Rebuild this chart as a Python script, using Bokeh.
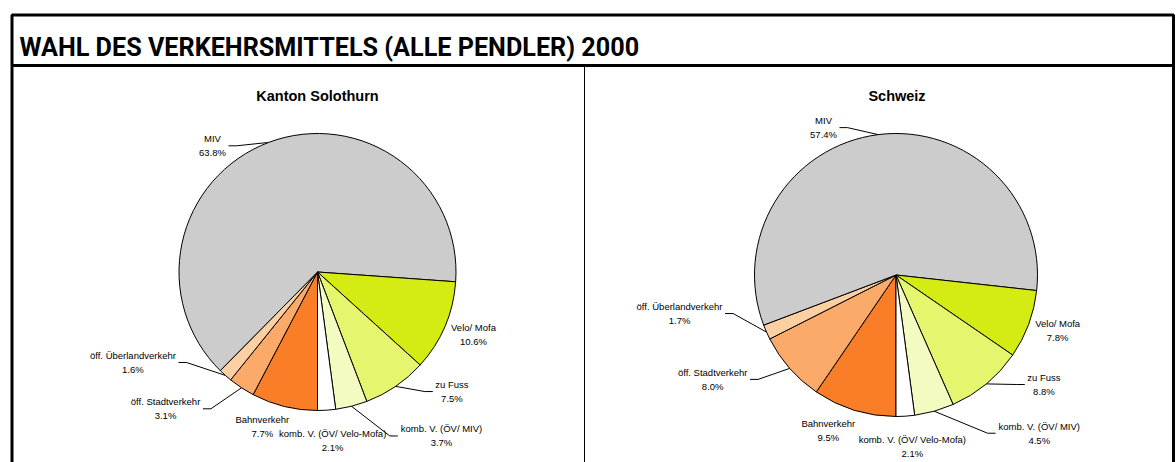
import math
from bokeh.plotting import figure
from bokeh.models import Range1d, ColumnDataSource
from bokeh.core.properties import value
from bokeh.embed import file_html
from bokeh.resources import INLINE

# ---------------- data ----------------
TITLE = "WAHL DES VERKEHRSMITTELS (ALLE PENDLER) 2000"
pie_titles = ["Kanton Solothurn", "Schweiz"]
# clockwise, starting at 6 o'clock
categories = ["Bahnverkehr", "öff. Stadtverkehr", "öff. Überlandverkehr", "MIV",
              "Velo/ Mofa", "zu Fuss", "komb. V. (ÖV/ MIV)", "komb. V. (ÖV/ Velo-Mofa)"]
solothurn = [7.7, 3.1, 1.6, 63.8, 10.6, 7.5, 3.7, 2.1]
schweiz = [9.5, 8.0, 1.7, 57.4, 7.8, 8.8, 4.5, 2.1]

# ---------------- style / layout ----------------
colors = ["#FA7D28", "#FBAA6A", "#FDD0A2", "#CCCCCC", "#D4EB14", "#E6F56E", "#F4FBC0", "#FFFFFF"]
has_leader = [False, True, True, True, False, True, True, False]
pie_layout = [
    dict(cx=317, cy=271.5, r=138.5, tx=317, ty=95.5,
         offs=[(-22, 20.5), (-76, 21), (-92.4, -12.9), (-56.1, 3.4),
               (28.6, 8.1), (56.3, 5.2), (90, 29.7), (6, 30.8)]),
    dict(cx=895.5, cy=274.5, r=141.5, tx=896.5, ty=95.5,
         offs=[(-26, 20.6), (-77, 11), (-87, -18.6), (-54.7, -7),
               (29, 6.2), (57.6, 0.6), (105, 22), (7, 30.6)]),
]
LABEL_FONT = "Liberation Sans"
LABEL_SIZE = 9.5

W, H = 1176, 462
OX, OY = 0, 0


def X(px):
    return px - OX


def Y(py):
    return H - (py - OY)


# Arial / Liberation Sans advance widths (per 1000 em)
AW = {'a': 556, 'b': 556, 'd': 556, 'e': 556, 'f': 278, 'h': 556, 'k': 500, 'l': 222,
      'm': 833, 'n': 556, 'o': 556, 'r': 333, 's': 500, 't': 278, 'u': 556, 'v': 500,
      'z': 500, 'ö': 556, 'B': 667, 'F': 611, 'M': 833, 'Ö': 778, 'S': 667, 'Ü': 722,
      'V': 667, 'I': 278, '(': 333, ')': 333, '/': 278, '-': 333, '.': 278, ' ': 278,
      '%': 889}


def text_w(s, size):
    return sum(AW.get(c, 556) for c in s) / 1000.0 * size


p = figure(width=W, height=H, x_range=Range1d(0, W), y_range=Range1d(0, H),
           output_backend="svg", toolbar_location=None, min_border=0,
           x_axis_type=None, y_axis_type=None)
p.grid.visible = False
p.outline_line_color = None
p.background_fill_color = "white"
p.border_fill_color = "white"

# frame
p.multi_line(xs=[[X(11.5), X(11.5), X(1173), X(1173)],
                 [X(11.5), X(1173)],
                 [X(584), X(584)]],
             ys=[[Y(462), Y(14.5), Y(14.5), Y(462)],
                 [Y(65), Y(65)],
                 [Y(65), Y(462)]],
             line_color="black", line_width=[3, 3, 1])

p.text(x=[X(19)], y=[Y(47)], text=[TITLE], text_align="left", text_baseline="middle",
       text_font=value("Roboto"), text_font_style="bold",
       text_font_size="25.2px", text_color="black")

for vals, ptitle, lay in zip([solothurn, schweiz], pie_titles, pie_layout):
    total = float(sum(vals))
    cum = 0.0
    starts, ends, mids = [], [], []
    for v in vals:
        a0 = -math.pi / 2 - 2 * math.pi * cum / total
        cum += v
        a1 = -math.pi / 2 - 2 * math.pi * cum / total
        starts.append(a1)
        ends.append(a0)
        mids.append((a0 + a1) / 2)
    src = ColumnDataSource(dict(start=starts, end=ends, color=colors))
    p.wedge(x=X(lay["cx"]), y=Y(lay["cy"]), radius=lay["r"], start_angle="start",
            end_angle="end", fill_color="color", line_color="black", line_width=1,
            source=src)

    p.text(x=[X(lay["tx"])], y=[Y(lay["ty"])], text=[ptitle], text_align="center",
           text_baseline="middle", text_font=value(LABEL_FONT), text_font_style="bold",
           text_font_size="14.5px", text_color="black")

    lx, ly1, ly2, names, pcts = [], [], [], [], []
    lxs, lys = [], []
    for cat, v, m, (dx, dy), lead in zip(categories, vals, mids, lay["offs"], has_leader):
        ex = lay["cx"] + lay["r"] * math.cos(m)
        ey = lay["cy"] - lay["r"] * math.sin(m)
        cx_l = ex + dx
        cy_l = ey + dy
        pct = f"{v:.1f}%"
        lx.append(X(cx_l))
        ly1.append(Y(cy_l - 7))
        ly2.append(Y(cy_l + 7))
        names.append(cat)
        pcts.append(pct)
        if lead:
            half = max(text_w(cat, LABEL_SIZE), text_w(pct, LABEL_SIZE)) / 2
            if dx < 0:
                end_x = cx_l + half + 2.5
                elb_x = end_x + 8
            else:
                end_x = cx_l - half - 2.5
                elb_x = end_x - 8
            lxs.append([X(ex), X(elb_x), X(end_x)])
            lys.append([Y(ey), Y(cy_l), Y(cy_l)])
    p.multi_line(xs=lxs, ys=lys, line_color="black", line_width=1)
    p.text(x=lx, y=ly1, text=names, text_align="center", text_baseline="middle",
           text_font=value(LABEL_FONT), text_font_size=f"{LABEL_SIZE}px", text_color="black")
    p.text(x=lx, y=ly2, text=pcts, text_align="center", text_baseline="middle",
           text_font=value(LABEL_FONT), text_font_size=f"{LABEL_SIZE}px", text_color="black")

open("out.html", "w").write(file_html(p, INLINE))
